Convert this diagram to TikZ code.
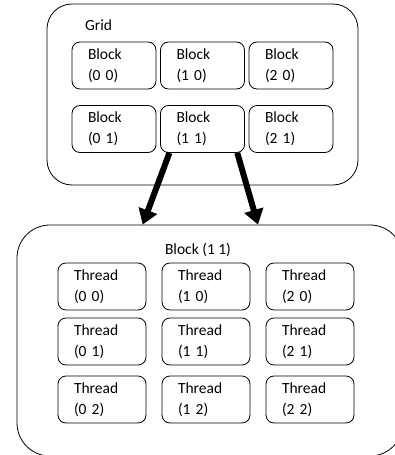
\documentclass[tikz,border=0pt]{standalone}
\usepackage{fontspec}
\setmainfont{Carlito}
\usetikzlibrary{arrows.meta, calc}
\tikzset{
    outer/.style={draw,line width=0.8pt,rounded corners=25pt},
    tt/.style={inner sep=0pt,font=\fontsize{15.5}{21}\selectfont},
    bnode/.style={draw,line width=0.8pt,rounded corners=8pt,minimum height=47pt,
        text width=52pt,inner xsep=16pt,inner ysep=0pt,align=left,
        font=\fontsize{15.5}{21}\selectfont},
    tnode/.style={bnode,text width=56pt},
    fat/.style={line width=6pt,-{Triangle[length=15pt,width=19pt]}},
}
\begin{document}
\begin{tikzpicture}[x=1pt,y=-1pt]
\useasboundingbox (0,0) rectangle (395,455);
\clip (0,0) rectangle (395,455);
% grid of blocks
\node[outer,minimum width=311pt,minimum height=181pt] (grid) at (202.5,94.5) {};
\node[tt,anchor=west] (gl) at (85,25) {Grid};
\foreach \i in {0,1,2}
  \foreach \j in {0,1}
    \node[bnode] (b\i\j) at ({114+88.5*\i},{65.5+63.5*\j}) {Block\\(\i\ \j)};
% one block, cut by the page edge
\node[outer,rounded corners=33pt,minimum width=386pt,minimum height=231pt] (blk) at (210,340.5) {};
\node[tt] (bl) at (198,250) {Block (1 1)};
\foreach \i in {0,1,2}
  \foreach \j/\y in {0/286.5,1/341.5,2/399.5}
    \node[tnode] (t\i\j) at ({102+104*\i},\y) {Thread\\(\i\ \j)};
\draw[fat] ($(b11.south west)!0.11!(b11.south east)$) -- ($(blk.north west)!0.326!(blk.north east)$);
\draw[fat] ($(b11.south west)!0.91!(b11.south east)$) -- ($(blk.north west)!0.624!(blk.north east)$);
\end{tikzpicture}
\end{document}
